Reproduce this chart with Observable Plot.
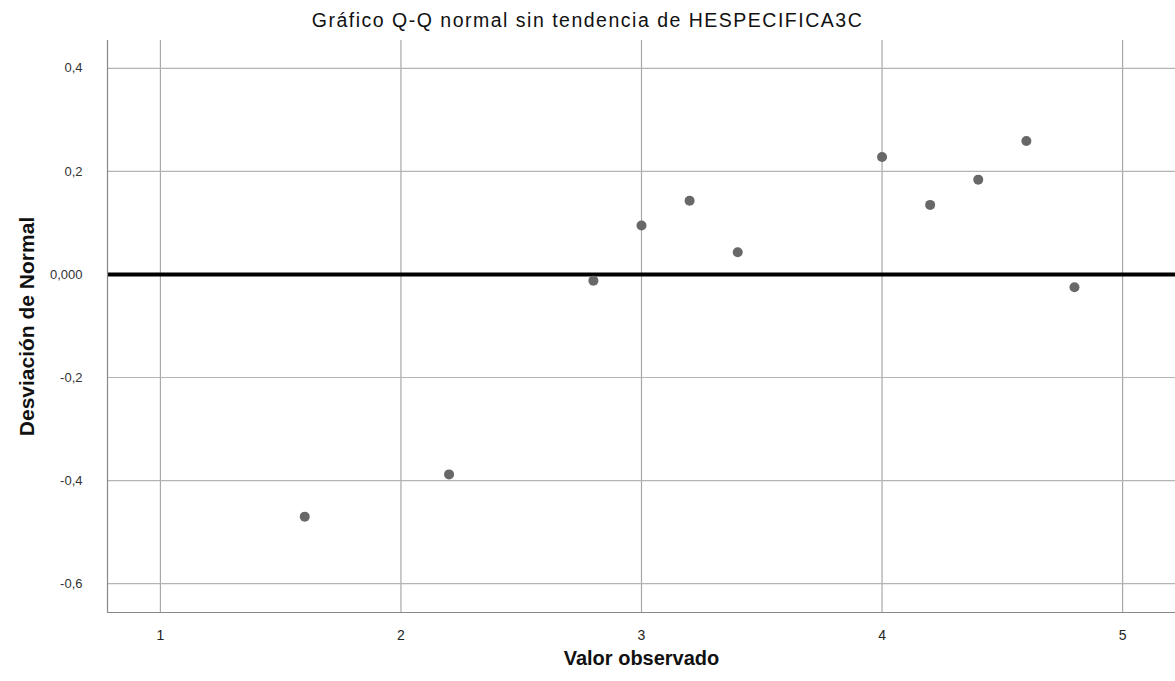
<!DOCTYPE html>
<html><head><meta charset="utf-8">
<script src="https://cdn.jsdelivr.net/npm/d3@7"></script>
<script src="https://cdn.jsdelivr.net/npm/@observablehq/plot@0.6"></script>
<style>
body{margin:0;background:#fff;font-family:"Liberation Sans",Arial,sans-serif;}
#title{height:36px;line-height:40px;text-align:center;font-size:19.5px;letter-spacing:1.5px;color:#111;width:1175px;}
</style></head>
<body>
<div id="title">Gráfico Q-Q normal sin tendencia de HESPECIFICA3C</div>
<div id="chart"></div>
<script>
const observed = [1.6, 2.2, 2.8, 3.0, 3.2, 3.4, 4.0, 4.2, 4.4, 4.6, 4.8];
const deviation = [-0.470, -0.388, -0.012, 0.095, 0.143, 0.043, 0.228, 0.135, 0.184, 0.259, -0.025];
const xTicks = [1, 2, 3, 4, 5];
const yTicks = [0.4, 0.2, 0, -0.2, -0.4, -0.6];
const yTickLabels = ["0,4", "0,2", "0,000", "-0,2", "-0,4", "-0,6"];

const data = observed.map((v, i) => ({x: v, y: deviation[i]}));
const yLabelMap = new Map(yTicks.map((t, i) => [t, yTickLabels[i]]));
const gridY = yTicks.filter(t => t !== 0);

const chart = Plot.plot({
  width: 1175,
  height: 645,
  marginTop: 4,
  marginBottom: 69,
  marginLeft: 107,
  marginRight: 0,
  style: {fontFamily: "Liberation Sans, Arial, sans-serif", background: "#fff"},
  x: {domain: [0.78, 5.22]},
  y: {domain: [-0.656, 0.454]},
  marks: [
    Plot.ruleX(xTicks, {stroke: "#a8a8a8", strokeWidth: 1.2}),
    Plot.ruleY(gridY, {stroke: "#b4b4b4", strokeWidth: 1.2}),
    Plot.ruleY([0], {stroke: "#000", strokeWidth: 4}),
    Plot.dot(data, {x: "x", y: "y", r: 5, fill: "#686868", stroke: "none"}),
    Plot.axisX(xTicks, {tickSize: 0, tickPadding: 18, fontSize: 14, fill: "#222",
      tickFormat: d => String(d), label: "Valor observado", labelAnchor: "center", labelArrow: "none", labelOffset: 52}),
    Plot.axisY(yTicks, {tickSize: 0, tickPadding: 25, fontSize: 13, fill: "#333",
      tickFormat: d => yLabelMap.get(d), label: "Desviación de Normal", labelAnchor: "center", labelArrow: "none", labelOffset: 88}),
    Plot.ruleX([0.78], {stroke: "#888", strokeWidth: 1.2}),
    Plot.ruleY([-0.656], {stroke: "#888", strokeWidth: 1.2})
  ]
});
document.getElementById("chart").appendChild(chart);
chart.querySelectorAll("g[aria-label='x-axis label'] text").forEach(t => {
  t.setAttribute("font-size", "20");
  t.setAttribute("font-weight", "bold");
  t.setAttribute("fill", "#111");
});
chart.querySelectorAll("g[aria-label='y-axis label'] text").forEach(t => {
  t.setAttribute("font-size", "21");
  t.setAttribute("font-weight", "bold");
  t.setAttribute("fill", "#111");
});
</script>
</body></html>
